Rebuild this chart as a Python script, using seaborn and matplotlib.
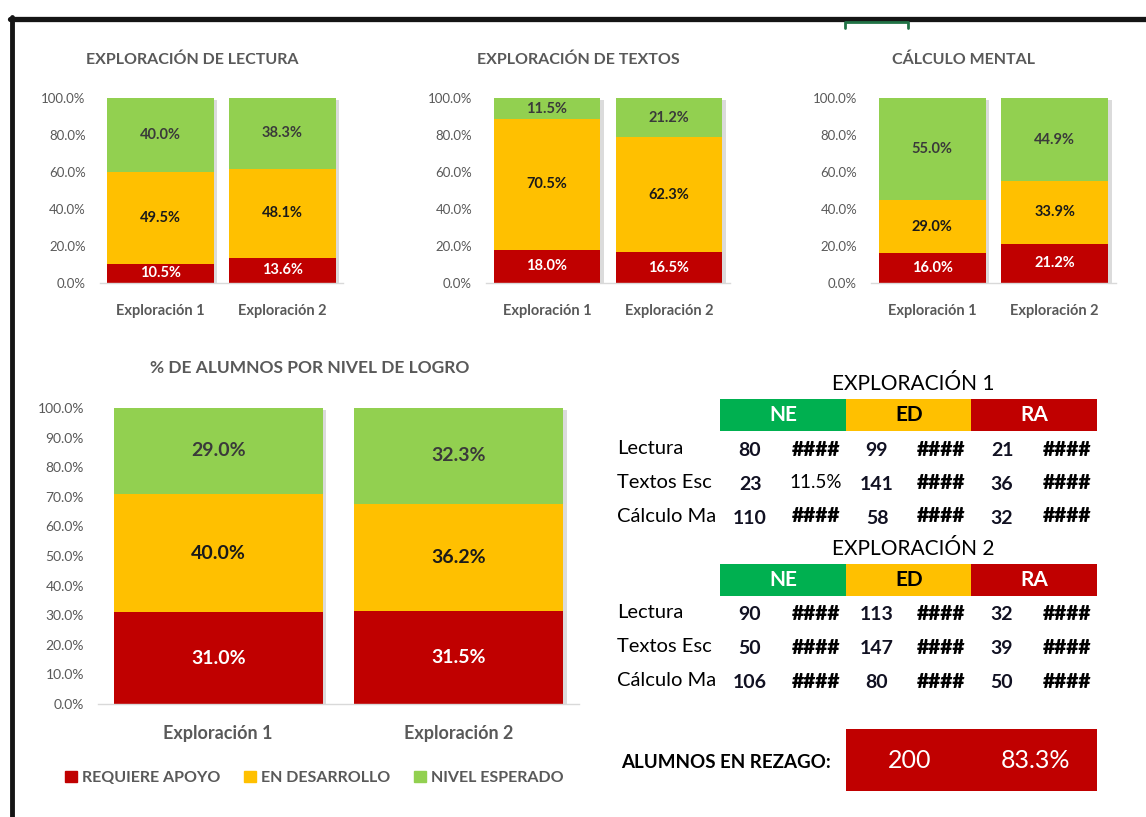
import matplotlib
matplotlib.use('Agg')
import matplotlib.pyplot as plt
import matplotlib.patheffects as pe
from matplotlib.patches import Rectangle
from matplotlib.lines import Line2D
import seaborn as sns
import pandas as pd

sns.set_theme(style='white')
plt.rcParams['font.family'] = ['Lato', 'DejaVu Sans']

RED = '#C00000'
YELLOW = '#FFC000'
LGREEN = '#92D050'
DGREEN = '#00B050'
GREY = '#595959'

# ---- data ----
categories = ['Exploración 1', 'Exploración 2']
levels = ['REQUIERE APOYO', 'EN DESARROLLO', 'NIVEL ESPERADO']

lectura_ra = [10.5, 13.6]
lectura_ed = [49.5, 48.1]
lectura_ne = [40.0, 38.3]

textos_ra = [18.0, 16.5]
textos_ed = [70.5, 62.3]
textos_ne = [11.5, 21.2]

calculo_ra = [16.0, 21.2]
calculo_ed = [29.0, 33.9]
calculo_ne = [55.0, 44.9]

total_ra = [31.0, 31.5]
total_ed = [40.0, 36.2]
total_ne = [29.0, 32.3]

table_rows = ['Lectura', 'Textos Esc', 'Cálculo Ma']
table_heads = ['NE', 'ED', 'RA']
exp1_ne = [80, 23, 110]
exp1_ed = [99, 141, 58]
exp1_ra = [21, 36, 32]
exp1_txt = [['####', '####', '####'], ['11.5%', '####', '####'], ['####', '####', '####']]
exp2_ne = [90, 50, 106]
exp2_ed = [113, 147, 80]
exp2_ra = [32, 39, 50]
exp2_txt = [['####', '####', '####'], ['####', '####', '####'], ['####', '####', '####']]

rezago_n = 200
rezago_pct = '83.3%'

W, H = 1146, 817
fig = plt.figure(figsize=(W / 100, H / 100), dpi=100)


def fpos(left, top, right, bottom):
    return [left / W, 1 - bottom / H, (right - left) / W, (bottom - top) / H]


def fx(x):
    return x / W


def fy(y):
    return 1 - y / H


def stacked(ax, ra, ed, ne, step, lab_fs, tick_fs, xlab_fs, xpad):
    df = pd.DataFrame({'cat': categories, 'ra': ra, 'ed': ed, 'ne': ne})
    df['top_ed'] = df['ra'] + df['ed']
    df['top_ne'] = df['top_ed'] + df['ne']
    for col, color in [('top_ne', LGREEN), ('top_ed', YELLOW), ('ra', RED)]:
        n0 = len(ax.patches)
        sns.barplot(data=df, x='cat', y=col, color=color, width=0.87, ax=ax,
                    saturation=1, linewidth=0, errorbar=None)
        if col == 'top_ne':
            for p in ax.patches[n0:]:
                p.set_path_effects([pe.SimplePatchShadow(offset=(2.5, -1.5), shadow_rgbFace='#8a8a8a', alpha=0.3),
                                    pe.Normal()])
    for i, row in df.iterrows():
        ax.text(i, row['ra'] / 2, f"{row['ra']:.1f}%", ha='center', va='center',
                color='white', fontsize=lab_fs, fontweight='bold')
        ax.text(i, row['ra'] + row['ed'] / 2, f"{row['ed']:.1f}%", ha='center', va='center',
                color='#1a1a1a', fontsize=lab_fs, fontweight='bold')
        ax.text(i, row['top_ed'] + row['ne'] / 2, f"{row['ne']:.1f}%", ha='center', va='center',
                color='#3a3a3a', fontsize=lab_fs, fontweight='bold')
    ax.set_xlim(-0.5, 1.5)
    ax.set_ylim(0, 100)
    ticks = list(range(0, 101, step))
    ax.set_yticks(ticks)
    ax.set_yticklabels([f'{t:.1f}%' for t in ticks], color=GREY, fontsize=tick_fs)
    ax.set_xlabel('')
    ax.set_ylabel('')
    ax.tick_params(axis='y', length=0, pad=10)
    ax.tick_params(axis='x', length=0, pad=xpad)
    for lbl in ax.get_xticklabels():
        lbl.set_color(GREY)
        lbl.set_fontsize(xlab_fs)
        lbl.set_fontweight('bold')
    for s in ['top', 'left', 'right']:
        ax.spines[s].set_visible(False)
    ax.spines['bottom'].set_color('#D9D9D9')
    ax.spines['bottom'].set_linewidth(1)
    ax.set_facecolor('white')
    ax.grid(False)


ax1 = fig.add_axes(fpos(99.5, 98, 343.5, 283))
stacked(ax1, lectura_ra, lectura_ed, lectura_ne, 20, 10.5, 9.5, 10.5, 15)
ax2 = fig.add_axes(fpos(486, 98, 730, 283))
stacked(ax2, textos_ra, textos_ed, textos_ne, 20, 10.5, 9.5, 10.5, 15)
ax3 = fig.add_axes(fpos(871, 98, 1116, 283))
stacked(ax3, calculo_ra, calculo_ed, calculo_ne, 20, 10.5, 9.5, 10.5, 15)
ax4 = fig.add_axes(fpos(98, 408, 579, 704))
stacked(ax4, total_ra, total_ed, total_ne, 10, 14, 10, 13, 15)

# chart titles (centred over the whole chart area, not just the plot)
for cx, cy, title, fs in [(192, 60, 'EXPLORACIÓN DE LECTURA', 11.5),
                          (578, 60, 'EXPLORACIÓN DE TEXTOS', 11.5),
                          (964, 60, 'CÁLCULO MENTAL', 11.5),
                          (310, 368, '% DE ALUMNOS POR NIVEL DE LOGRO', 12.5)]:
    fig.text(fx(cx), fy(cy), title, ha='center', va='center', fontsize=fs,
             fontweight='bold', color=GREY)

# legend for bottom chart
handles = [Rectangle((0, 0), 1, 1, color=c) for c in [RED, YELLOW, LGREEN]]
leg = fig.legend(handles, levels, loc='center', bbox_to_anchor=(fx(314), fy(778)), ncol=3,
                 frameon=False, handlelength=0.75, handleheight=0.75, handletextpad=0.3,
                 columnspacing=1.5, prop={'weight': 'bold', 'size': 11.5})
for t in leg.get_texts():
    t.set_color(GREY)

# ---- tables ----
col_x = [750, 816, 877, 941, 1002, 1067]
head_left = [720, 846, 971]
head_w = 126


def draw_table(title, title_y, head_top, row_ys, ne, ed, ra, txt):
    fig.text(fx(913), fy(title_y), title, ha='center', va='center', fontsize=15, color='black')
    for j, (h, c) in enumerate(zip(table_heads, [DGREEN, YELLOW, RED])):
        fig.add_artist(Rectangle((fx(head_left[j]), fy(head_top + 32)), head_w / W, 32 / H,
                                 transform=fig.transFigure, color=c, linewidth=0))
        fig.text(fx(head_left[j] + head_w / 2), fy(head_top + 16), h, ha='center', va='center',
                 fontsize=15, fontweight='bold', color='black' if h == 'ED' else 'white')
    for i, name in enumerate(table_rows):
        y = fy(row_ys[i])
        fig.text(fx(617), y, name, ha='left', va='center', fontsize=14.5, color='black')
        vals = [ne[i], ed[i], ra[i]]
        for j in range(3):
            fig.text(fx(col_x[2 * j]), y - 2 / H, str(vals[j]), ha='center', va='center',
                     fontsize=14, fontweight='bold', color='#111122')
            t = txt[i][j]
            if t == '####':
                fig.text(fx(col_x[2 * j + 1]), y, t, ha='center', va='center',
                         fontsize=15, fontweight='heavy', color='black')
            else:
                fig.text(fx(col_x[2 * j + 1]), y, t, ha='center', va='center',
                         fontsize=13.5, color='black')


draw_table('EXPLORACIÓN 1', 384, 399, [449, 483, 516], exp1_ne, exp1_ed, exp1_ra, exp1_txt)
draw_table('EXPLORACIÓN 2', 549, 564, [613, 647, 681], exp2_ne, exp2_ed, exp2_ra, exp2_txt)

# ---- rezago ----
fig.text(fx(621), fy(762), 'ALUMNOS EN REZAGO:', ha='left', va='center', fontsize=13.5,
         fontweight='bold', color='black')
fig.add_artist(Rectangle((fx(846), fy(791)), (1097 - 846) / W, (791 - 729) / H,
                         transform=fig.transFigure, color=RED, linewidth=0))
fig.text(fx(910), fy(761), str(rezago_n), ha='center', va='center', fontsize=18, color='white')
fig.text(fx(1035), fy(761), rezago_pct, ha='center', va='center', fontsize=18, color='white')

# ---- frame lines ----
fig.add_artist(Line2D([fx(10), fx(1146)], [fy(19), fy(19)], transform=fig.transFigure,
                      color='#151515', lw=3.8))
fig.add_artist(Line2D([fx(12), fx(12)], [fy(17), fy(817)], transform=fig.transFigure,
                      color='#151515', lw=3.5))
fig.add_artist(Line2D([fx(845), fx(845), fx(908), fx(908)], [fy(28), fy(22), fy(22), fy(28)],
                      transform=fig.transFigure, color='#217346', lw=2))

fig.savefig('out.png', dpi=100, facecolor='white')
